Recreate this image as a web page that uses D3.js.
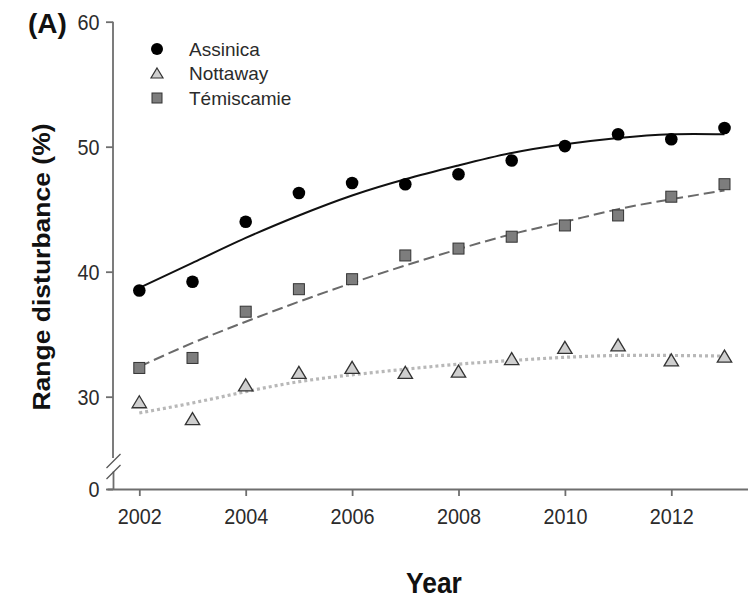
<!DOCTYPE html>
<html>
<head>
<meta charset="utf-8">
<script src="https://cdn.jsdelivr.net/npm/d3@7"></script>
<style>
  body { margin: 0; background: #fff; }
  svg { display: block; font-family: "Liberation Sans", Arial, sans-serif; }
</style>
</head>
<body>
<div id="chart"></div>
<script>
// Data
const years = [2002, 2003, 2004, 2005, 2006, 2007, 2008, 2009, 2010, 2011, 2012, 2013];
const assinica   = [38.5, 39.2, 44.0, 46.3, 47.1, 47.0, 47.8, 48.9, 50.05, 51.0, 50.6, 51.5];
const nottaway   = [29.55, 28.2, 30.9, 31.9, 32.3, 31.9, 32.0, 33.0, 33.9, 34.1, 32.9, 33.2];
const temiscamie = [32.3, 33.1, 36.8, 38.6, 39.4, 41.3, 41.85, 42.8, 43.7, 44.5, 46.0, 47.0];
// fitted curves, read at each year
const assinicaFit   = [38.7, 40.7, 42.7, 44.5, 46.1, 47.4, 48.5, 49.5, 50.2, 50.7, 51.0, 51.0];
const nottawayFit   = [28.7, 29.5, 30.4, 31.2, 31.75, 32.2, 32.6, 32.9, 33.15, 33.3, 33.3, 33.25];
const temiscamieFit = [32.4, 34.3, 36.0, 37.6, 39.1, 40.5, 41.8, 43.0, 44.0, 45.0, 45.8, 46.5];
const seriesNames = ["Assinica", "Nottaway", "Témiscamie"];
const yTicks = [30, 40, 50, 60];
const xTicks = [2002, 2004, 2006, 2008, 2010, 2012];

const width = 748;
const height = 599;
const axisX = 113;
const axisY = 489;
const axisColor = "#6e6e6e";
const textColor = "#2b2b2b";
const squish = 0.9;

const svg = d3.select("#chart")
  .append("svg")
    .attr("width", width)
    .attr("height", height);

// Scales
const xScale = d3.scaleLinear()
  .domain([2002, 2013])
  .range([139.3, 724.5]);
const yScale = d3.scaleLinear()
  .domain([30, 60])
  .range([396.7, 21.7]);
// lower part of the broken axis (only the 0 tick)
const yLow = d3.scaleLinear()
  .domain([0, 1.4])
  .range([axisY, 471]);

/* Axes */
// Bottom axis
const xAxisScale = xScale.copy().domain([xScale.invert(107), xScale.invert(748)]).range([107, 748]);
const bottomAxis = d3.axisBottom(xAxisScale)
  .tickValues(xTicks)
  .tickFormat(d3.format("d"))
  .tickSize(7)
  .tickSizeOuter(0);
const gx = svg.append("g")
    .attr("transform", `translate(0, ${axisY})`)
    .call(bottomAxis);
gx.selectAll("text")
    .attr("y", 0)
    .attr("dy", null)
    .attr("transform", `translate(0, 35) scale(${squish}, 1)`)
    .attr("font-size", 22);

// Left axis, upper part
const leftAxis = d3.axisLeft(yScale)
  .tickValues(yTicks)
  .tickSize(7)
  .tickSizeOuter(0);
const gy = svg.append("g")
    .attr("transform", `translate(${axisX}, 0)`)
    .call(leftAxis);
gy.select(".domain").remove();
gy.append("line")
    .attr("x1", 0).attr("x2", 0)
    .attr("y1", yScale(60)).attr("y2", 458)
    .attr("stroke", axisColor);

// Left axis, lower part
const lowAxis = d3.axisLeft(yLow)
  .tickValues([0])
  .tickFormat(d3.format("d"))
  .tickSize(7)
  .tickSizeOuter(0);
const gyl = svg.append("g")
    .attr("transform", `translate(${axisX}, 0)`)
    .call(lowAxis);

[gy, gyl].forEach(g => {
  g.selectAll("text")
      .attr("x", 0)
      .attr("dy", "0.36em")
      .attr("transform", `translate(-13.5, 0) scale(${squish}, 1)`)
      .attr("font-size", 22);
});

svg.selectAll(".tick text").attr("fill", textColor).attr("font-family", null);
svg.selectAll(".tick line, .domain").attr("stroke", axisColor);
svg.selectAll("g line, .domain").attr("stroke-width", 1.8);

// Axis break marks
[[468, 454], [479, 465]].forEach(([ya, yb]) => {
  svg.append("line")
      .attr("x1", 106.5).attr("y1", ya)
      .attr("x2", 120.5).attr("y2", yb)
      .attr("stroke", "#555")
      .attr("stroke-width", 1.3);
});

/* Fitted curves */
const line = d3.line()
  .x((d, i) => xScale(years[i]))
  .y(d => yScale(d))
  .curve(d3.curveNatural);

svg.append("path")
    .attr("d", line(nottawayFit))
    .attr("fill", "none")
    .attr("stroke", "#b8b8b8")
    .attr("stroke-width", 3.2)
    .attr("stroke-dasharray", "3,3");
svg.append("path")
    .attr("d", line(temiscamieFit))
    .attr("fill", "none")
    .attr("stroke", "#6a6a6a")
    .attr("stroke-width", 2)
    .attr("stroke-dasharray", "11,5");
svg.append("path")
    .attr("d", line(assinicaFit))
    .attr("fill", "none")
    .attr("stroke", "#111")
    .attr("stroke-width", 2);

/* Points */
const triangle = (cx, cy, s) =>
  `M${cx},${cy - s * 0.55} L${cx + s * 0.6},${cy + s * 0.45} L${cx - s * 0.6},${cy + s * 0.45} Z`;

svg.selectAll(".pt-n")
  .data(nottaway)
  .join("path")
    .attr("class", "pt-n")
    .attr("d", (d, i) => triangle(xScale(years[i]), yScale(d), 12))
    .attr("fill", "#cfcfcf")
    .attr("stroke", "#333")
    .attr("stroke-width", 1.3);

svg.selectAll(".pt-t")
  .data(temiscamie)
  .join("rect")
    .attr("class", "pt-t")
    .attr("x", (d, i) => xScale(years[i]) - 5.5)
    .attr("y", d => yScale(d) - 5.5)
    .attr("width", 11)
    .attr("height", 11)
    .attr("fill", "#7d7d7d")
    .attr("stroke", "#333")
    .attr("stroke-width", 1);

svg.selectAll(".pt-a")
  .data(assinica)
  .join("circle")
    .attr("class", "pt-a")
    .attr("cx", (d, i) => xScale(years[i]))
    .attr("cy", d => yScale(d))
    .attr("r", 6.3)
    .attr("fill", "#000");

/* Legend */
const legendX = 157;
const legendY = [49, 73.5, 98];
svg.append("circle")
    .attr("cx", legendX).attr("cy", legendY[0]).attr("r", 6)
    .attr("fill", "#000");
svg.append("path")
    .attr("d", triangle(legendX, legendY[1], 10))
    .attr("fill", "#cfcfcf")
    .attr("stroke", "#333")
    .attr("stroke-width", 1.2);
svg.append("rect")
    .attr("x", legendX - 5).attr("y", legendY[2] - 5)
    .attr("width", 10).attr("height", 10)
    .attr("fill", "#7d7d7d")
    .attr("stroke", "#333")
    .attr("stroke-width", 1);
svg.selectAll(".legend-label")
  .data(seriesNames)
  .join("text")
    .attr("class", "legend-label")
    .attr("x", 189)
    .attr("y", (d, i) => legendY[i] + 6.5)
    .attr("font-size", 19)
    .attr("fill", textColor)
    .text(d => d);

/* Labels */
svg.append("text")
    .attr("x", 28)
    .attr("y", 33)
    .attr("font-size", 28)
    .attr("font-weight", "bold")
    .attr("fill", "#111")
    .text("(A)");

svg.append("text")
    .attr("transform", `translate(50, 267) rotate(-90) scale(1, 0.88)`)
    .attr("text-anchor", "middle")
    .attr("font-size", 26.5)
    .attr("font-weight", "bold")
    .attr("fill", "#111")
    .text("Range disturbance (%)");

svg.append("text")
    .attr("transform", `translate(434, 593) scale(0.88, 1)`)
    .attr("text-anchor", "middle")
    .attr("font-size", 30)
    .attr("font-weight", "bold")
    .attr("fill", "#111")
    .text("Year");
</script>
</body>
</html>
